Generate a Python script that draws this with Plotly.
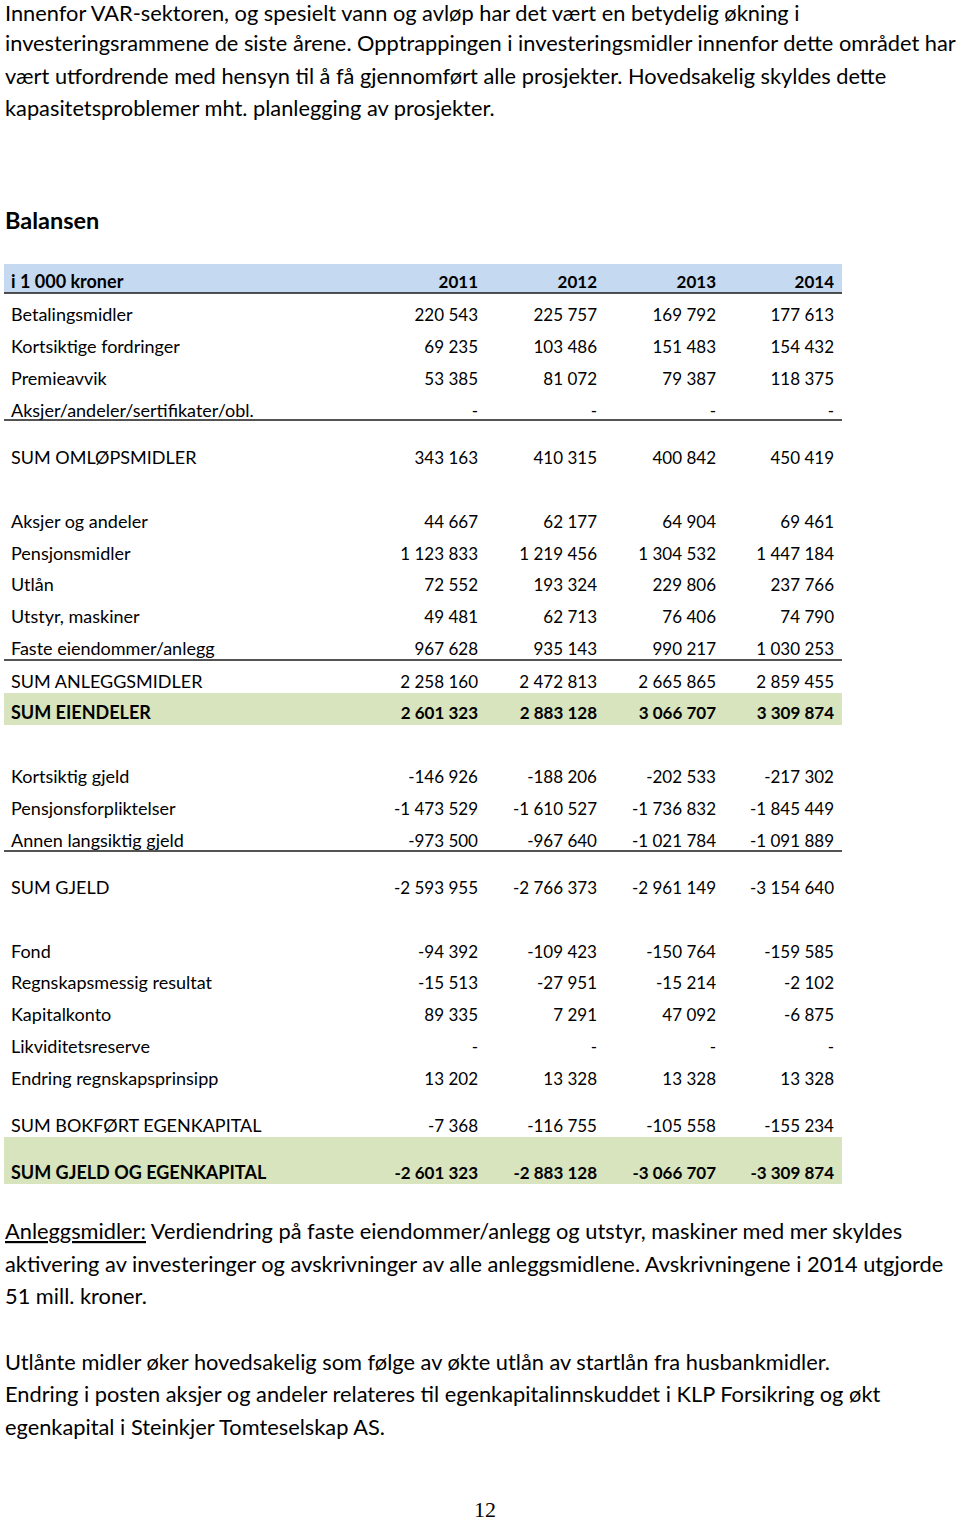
import plotly.graph_objects as go

# ---------------- data ----------------
years = ["2011", "2012", "2013", "2014"]
header_label = "i 1 000 kroner"

row_labels = [
    "Betalingsmidler", "Kortsiktige fordringer", "Premieavvik",
    "Aksjer/andeler/sertifikater/obl.", "SUM OMLØPSMIDLER",
    "Aksjer og andeler", "Pensjonsmidler", "Utlån", "Utstyr, maskiner",
    "Faste eiendommer/anlegg", "SUM ANLEGGSMIDLER", "SUM EIENDELER",
    "Kortsiktig gjeld", "Pensjonsforpliktelser", "Annen langsiktig gjeld",
    "SUM GJELD", "Fond", "Regnskapsmessig resultat", "Kapitalkonto",
    "Likviditetsreserve", "Endring regnskapsprinsipp",
    "SUM BOKFØRT EGENKAPITAL", "SUM GJELD OG EGENKAPITAL",
]
v2011 = [220543, 69235, 53385, None, 343163, 44667, 1123833, 72552, 49481,
         967628, 2258160, 2601323, -146926, -1473529, -973500, -2593955,
         -94392, -15513, 89335, None, 13202, -7368, -2601323]
v2012 = [225757, 103486, 81072, None, 410315, 62177, 1219456, 193324, 62713,
         935143, 2472813, 2883128, -188206, -1610527, -967640, -2766373,
         -109423, -27951, 7291, None, 13328, -116755, -2883128]
v2013 = [169792, 151483, 79387, None, 400842, 64904, 1304532, 229806, 76406,
         990217, 2665865, 3066707, -202533, -1736832, -1021784, -2961149,
         -150764, -15214, 47092, None, 13328, -105558, -3066707]
v2014 = [177613, 154432, 118375, None, 450419, 69461, 1447184, 237766, 74790,
         1030253, 2859455, 3309874, -217302, -1845449, -1091889, -3154640,
         -159585, -2102, -6875, None, 13328, -155234, -3309874]
bold_rows = ["SUM EIENDELER", "SUM GJELD OG EGENKAPITAL"]

top_text = [
    "Innenfor VAR-sektoren, og spesielt vann og avløp har det vært en betydelig økning i",
    "investeringsrammene de siste årene. Opptrappingen i investeringsmidler innenfor dette området har",
    "vært utfordrende med hensyn til å få gjennomført alle prosjekter. Hovedsakelig skyldes dette",
    "kapasitetsproblemer mht. planlegging av prosjekter.",
]
title_text = "Balansen"
bottom_text = [
    "<span style='text-decoration:underline'>Anleggsmidler:</span> Verdiendring på faste eiendommer/anlegg og utstyr, maskiner med mer skyldes",
    "aktivering av investeringer og avskrivninger av alle anleggsmidlene. Avskrivningene i 2014 utgjorde",
    "51 mill. kroner.",
    "Utlånte midler øker hovedsakelig som følge av økte utlån av startlån fra husbankmidler.",
    "Endring i posten aksjer og andeler relateres til egenkapitalinnskuddet i KLP Forsikring og økt",
    "egenkapital i Steinkjer Tomteselskap AS.",
]
page_number = "12"

# ---------------- layout positions ----------------
W, H = 960, 1521
row_y = [314, 346, 378, 410, 457, 521, 553, 584, 616, 648, 681, 712,
         776, 808, 840, 887, 951, 982, 1014, 1046, 1078, 1125, 1172]
header_y = 281
TY_NUM = 3    # text baseline correction, numbers
TY_LAB = 2    # text baseline correction, labels
col_x = [478, 597, 716, 834]
label_x = 11
top_y = [12.5, 42, 75, 107]
bottom_y = [1230, 1263, 1295, 1361, 1393, 1426]

FONT = "Lato, 'Open Sans', sans-serif"
TFS = 17      # numbers
LFS = 18      # row labels
PFS = 21.8    # paragraphs


def fmt(v):
    if v is None:
        return "-"
    s = f"{abs(v):,}".replace(",", " ")
    return ("-" if v < 0 else "") + s


def b(s, lab):
    return f"<b>{s}</b>" if lab in bold_rows else s


ys_num = [header_y + TY_NUM] + [y + TY_NUM for y in row_y]
ys_lab = [header_y + TY_LAB] + [y + TY_LAB for y in row_y]

fig = go.Figure()

# labels
fig.add_trace(go.Scatter(
    x=[label_x] * len(ys_lab), y=ys_lab, mode="text",
    text=[f"<b>{header_label}</b>"] + [b(l, l) for l in row_labels],
    textposition="middle right", textfont=dict(family=FONT, size=LFS, color="#000"),
    hoverinfo="skip"))

for yr, vals, cx in zip(years, [v2011, v2012, v2013, v2014], col_x):
    fig.add_trace(go.Scatter(
        x=[cx] * len(ys_num), y=ys_num, mode="text",
        text=[f"<b>{yr}</b>"] + [b(fmt(v), l) for v, l in zip(vals, row_labels)],
        textposition="middle left", textfont=dict(family=FONT, size=TFS, color="#000"),
        hoverinfo="skip"))

shapes = [
    dict(type="rect", x0=4, x1=842, y0=264, y1=293, fillcolor="#C5D9F1", line_width=0, layer="below"),
    dict(type="rect", x0=4, x1=842, y0=693, y1=725, fillcolor="#D7E4BD", line_width=0, layer="below"),
    dict(type="rect", x0=4, x1=842, y0=1137, y1=1184, fillcolor="#D7E4BD", line_width=0, layer="below"),
]
for ly in [293, 420, 660, 851]:
    shapes.append(dict(type="line", x0=4, x1=842, y0=ly, y1=ly, line=dict(color="#1a1a1a", width=1.6)))

ann = []
for t, y in zip(top_text, top_y):
    ann.append(dict(x=3, y=y, text=t, xanchor="left", yanchor="middle", showarrow=False,
                    font=dict(family=FONT, size=PFS, color="#000")))
ann.append(dict(x=3, y=220, text=f"<b>{title_text}</b>", xanchor="left", yanchor="middle",
                showarrow=False, font=dict(family=FONT, size=23.5, color="#000")))
for t, y in zip(bottom_text, bottom_y):
    ann.append(dict(x=3, y=y, text=t, xanchor="left", yanchor="middle", showarrow=False,
                    font=dict(family=FONT, size=PFS, color="#000")))
ann.append(dict(x=485, y=1509, text=page_number, xanchor="center", yanchor="middle", showarrow=False,
                font=dict(family="'Liberation Serif', serif", size=22, color="#000")))

fig.update_layout(
    width=W, height=H, margin=dict(l=0, r=0, t=0, b=0, pad=0),
    paper_bgcolor="white", plot_bgcolor="white", showlegend=False, hovermode=False,
    xaxis=dict(range=[0, W], visible=False, fixedrange=True),
    yaxis=dict(range=[H, 0], visible=False, fixedrange=True),
    shapes=shapes, annotations=ann,
)

fig.write_html("out.html", config={"displayModeBar": False},
               post_script="document.body.style.margin='0px';document.body.style.overflow='hidden';")
